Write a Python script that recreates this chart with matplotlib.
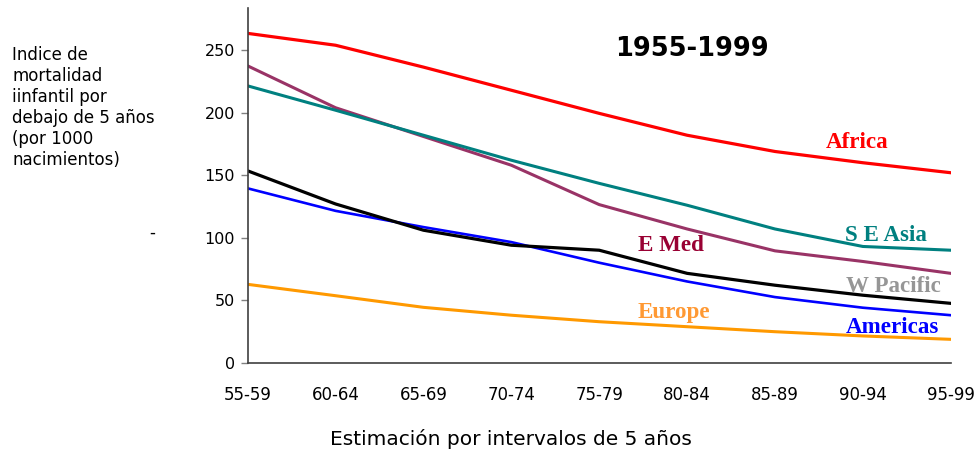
import matplotlib
matplotlib.use("Agg")
import matplotlib.pyplot as plt

periods = ["55-59", "60-64", "65-69", "70-74", "75-79", "80-84", "85-89", "90-94", "95-99"]
africa = [263.5, 254, 236.5, 218, 199.5, 182, 169, 160, 152]
se_asia = [221.5, 202, 182, 162, 143.5, 126, 107, 93, 90]
e_med = [237.5, 204, 181, 158, 126.5, 107, 89.5, 81, 71.5]
w_pacific = [153.5, 127, 106, 94, 90, 71.5, 62, 54, 47.5]
americas = [139.5, 121.5, 108.5, 96.5, 80, 65, 52.5, 44, 38]
europe = [62.7, 53.6, 44.3, 38, 32.8, 28.8, 24.8, 21.4, 18.7]

fig = plt.figure(figsize=(9.8, 4.5), dpi=100)
ax = fig.add_axes([247.7/980, 1-362.7/450, (950.7-247.7)/980, (362.7-8)/450])

x = list(range(len(periods)))
ax.plot(x, europe, color="#FF9900", lw=2.2, solid_joinstyle="round")
ax.plot(x, americas, color="#0000FF", lw=1.9, solid_joinstyle="round")
ax.plot(x, w_pacific, color="#000000", lw=2.3, solid_joinstyle="round")
ax.plot(x, e_med, color="#993366", lw=2.2, solid_joinstyle="round")
ax.plot(x, se_asia, color="#008080", lw=2.2, solid_joinstyle="round")
ax.plot(x, africa, color="#FF0000", lw=2.3, solid_joinstyle="round")

ax.set_xlim(0, len(periods)-1)
ax.set_ylim(0, 283.8)
ax.set_yticks([0, 50, 100, 150, 200, 250])
ax.set_xticks(x)
ax.set_xticklabels(periods)
ax.tick_params(axis="y", length=5, width=1, color="#808080", labelsize=11.5, pad=4)
ax.tick_params(axis="x", length=0, labelsize=12, pad=17)
for s in ["top", "right"]:
    ax.spines[s].set_visible(False)
for s in ["left", "bottom"]:
    ax.spines[s].set_color("#404040")
    ax.spines[s].set_linewidth(1.2)

ax.set_xlabel("Estimación por intervalos de 5 años", fontsize=14.5, labelpad=15)
ax.xaxis.set_label_coords((511-247.7)/703, -(445-362.7)/354.7)
ax.xaxis.label.set_va("baseline")

serif = dict(family="Liberation Serif", fontweight="bold", fontsize=16.6, va="baseline", ha="left")
ax.text(6.58, 171.5, "Africa", color="#FF0000", **serif)
ax.text(6.80, 97.6, "S E Asia", color="#008080", **serif)
ax.text(4.44, 89.4, "E Med", color="#990033", **serif)
ax.text(6.81, 56.8, "W Pacific", color="#969696", **serif)
ax.text(4.44, 36.0, "Europe", color="#FF9933", **serif)
ax.text(6.81, 24.0, "Americas", color="#0000FF", **serif)

ax.text(4.18, 245.6, "1955-1999", fontsize=18.5, fontweight="bold", color="black",
        va="baseline", ha="left")

fig.text(12/980, 1-46/450,
         "Indice de\nmortalidad\niinfantil por\ndebajo de 5 años\n(por 1000\nnacimientos)",
         fontsize=12, ha="left", va="top", linespacing=1.22)
fig.text(152/980, 1-233/450, "-", fontsize=12, ha="center", va="center")

fig.savefig("out.png", dpi=100)
